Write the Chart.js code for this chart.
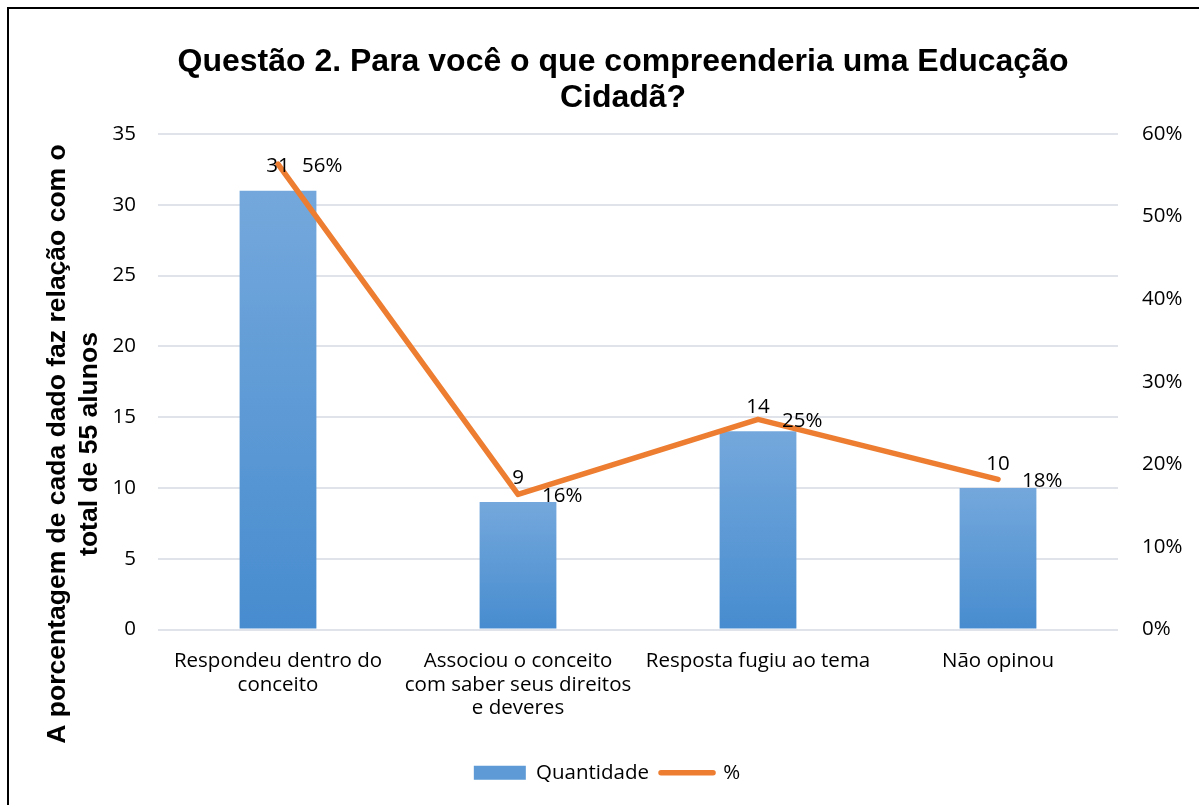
<!DOCTYPE html>
<html>
<head>
<meta charset="utf-8">
<script src="https://cdn.jsdelivr.net/npm/chart.js@4.4.1/dist/chart.umd.min.js"></script>
<style>
html, body { margin: 0; padding: 0; background: #fff; }
#wrap { position: absolute; left: 0; top: 0; width: 1199px; height: 805px; }
#frame { position: absolute; left: 7px; top: 7px; width: 1300px; height: 1000px; border: 2px solid #000; pointer-events: none; }
</style>
</head>
<body>
<div id="wrap"><canvas id="chart"></canvas></div>
<div id="frame"></div>
<script>
// categories (multi-line labels like the original)
const categories = [
    ['Respondeu dentro do', 'conceito'],
    ['Associou o conceito', 'com saber seus direitos', 'e deveres'],
    ['Resposta fugiu ao tema'],
    ['Não opinou']
];
const quantidade = [31, 9, 14, 10];
const percentual = [56.36, 16.36, 25.45, 18.18];

const leftMax = 35, leftStep = 5;
const rightMax = 60, rightStep = 10;

const titleLines = ['Questão 2. Para você o que compreenderia uma Educação', 'Cidadã?'];
const yTitleLines = ['A porcentagem de cada dado faz relação com o', 'total de 55 alunos'];

const textFont = '"Open Sans", "Noto Sans", sans-serif';
const textSize = 20.5;

function barFill(ctx) {
    const chart = ctx.chart;
    if (!chart.chartArea || ctx.type !== 'data') return '#5b9bd5';
    const y = chart.scales.y;
    const top = y.getPixelForValue(ctx.raw);
    const bottom = y.getPixelForValue(0);
    const g = chart.ctx.createLinearGradient(0, top, 0, bottom);
    g.addColorStop(0, '#74a8dc');
    g.addColorStop(1, '#478ccf');
    return g;
}

// value labels on bars and line points
const valueLabels = {
    id: 'valueLabels',
    afterDatasetsDraw(chart) {
        const ctx = chart.ctx;
        ctx.save();
        ctx.font = textSize + 'px ' + textFont;
        ctx.fillStyle = '#000';
        ctx.textBaseline = 'middle';
        chart.getDatasetMeta(0).data.forEach((bar, i) => {
            ctx.textAlign = 'center';
            ctx.fillText(String(quantidade[i]), bar.x, bar.y - 24);
        });
        chart.getDatasetMeta(1).data.forEach((pt, i) => {
            ctx.textAlign = 'left';
            ctx.fillText(Math.round(percentual[i]) + '%', pt.x + 24, pt.y + 2);
        });
        ctx.restore();
    }
};

// rotated two-line axis title on the left
const yTitle = {
    id: 'yTitle',
    afterDraw(chart) {
        const ctx = chart.ctx;
        ctx.save();
        ctx.translate(0, 444);
        ctx.rotate(-Math.PI / 2);
        ctx.font = 'bold 26.5px "Liberation Sans", Arial, sans-serif';
        ctx.fillStyle = '#000';
        ctx.textAlign = 'center';
        ctx.textBaseline = 'middle';
        ctx.fillText(yTitleLines[0], 0, 58);
        ctx.fillText(yTitleLines[1], 0, 90);
        ctx.restore();
    }
};

new Chart(document.getElementById('chart'), {
    data: {
        labels: categories,
        datasets: [{
            type: 'bar',
            label: 'Quantidade',
            data: quantidade,
            yAxisID: 'y',
            backgroundColor: barFill,
            barPercentage: 0.32,
            categoryPercentage: 1,
            order: 1
        }, {
            type: 'line',
            label: '%',
            data: percentual,
            yAxisID: 'y1',
            borderColor: '#ed7d31',
            backgroundColor: '#ed7d31',
            borderWidth: 5.5,
            borderCapStyle: 'round',
            borderJoinStyle: 'round',
            pointRadius: 0,
            tension: 0,
            order: 0
        }]
    },
    options: {
        responsive: true,
        maintainAspectRatio: false,
        animation: false,
        layout: { padding: { left: 47, right: 0, top: 0, bottom: 12 } },
        plugins: {
            tooltip: { enabled: false },
            title: {
                display: true,
                text: titleLines,
                color: '#000',
                font: { family: '"Liberation Sans", Arial, sans-serif', size: 32, weight: 'bold', lineHeight: 1.125 },
                padding: { top: 44, bottom: 18 }
            },
            legend: {
                position: 'bottom',
                labels: {
                    color: '#000',
                    font: { family: textFont, size: textSize },
                    usePointStyle: true,
                    pointStyleWidth: 52,
                    boxHeight: 14,
                    padding: 12,
                    generateLabels(chart) {
                        const items = Chart.defaults.plugins.legend.labels.generateLabels(chart);
                        items.sort((a, b) => a.datasetIndex - b.datasetIndex);
                        items[0].fillStyle = '#5e9bd6';
                        items[0].lineWidth = 0;
                        items[0].pointStyle = 'rect';
                        items[1].pointStyle = 'line';
                        items[1].strokeStyle = '#ed7d31';
                        items[1].lineWidth = 5.5;
                        items[1].lineCap = 'round';
                        // trailing spaces nudge the centred legend a little to the left
                        items[1].text = items[1].text + '\u00a0\u00a0\u00a0\u00a0\u00a0\u00a0';
                        return items;
                    }
                }
            }
        },
        scales: {
            x: {
                grid: { display: false },
                border: { display: false },
                ticks: {
                    color: '#000',
                    font: { family: textFont, size: textSize, lineHeight: 1.15 },
                    maxRotation: 0,
                    autoSkip: false,
                    padding: 12
                },
                afterFit(scale) { scale.height = 121; }
            },
            y: {
                position: 'left',
                min: 0,
                max: leftMax,
                ticks: {
                    stepSize: leftStep,
                    color: '#000',
                    font: { family: textFont, size: textSize },
                    padding: 22
                },
                grid: { color: '#e0e4ea', lineWidth: 2, drawTicks: false },
                border: { display: false },
                afterFit(scale) { scale.width = 111; }
            },
            y1: {
                position: 'right',
                min: 0,
                max: rightMax,
                ticks: {
                    stepSize: rightStep,
                    color: '#000',
                    font: { family: textFont, size: textSize },
                    padding: 24,
                    callback: v => v + '%'
                },
                grid: { display: false, drawTicks: false },
                border: { display: false },
                afterFit(scale) { scale.width = 81; }
            }
        }
    },
    plugins: [valueLabels, yTitle]
});
</script>
</body>
</html>
